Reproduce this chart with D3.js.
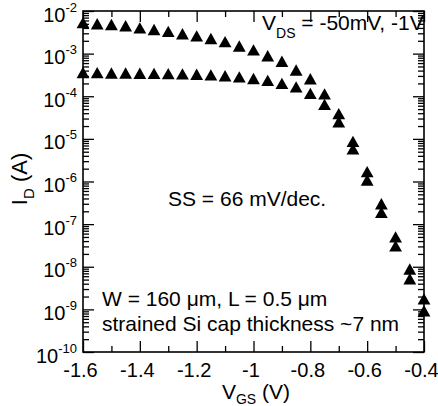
<!DOCTYPE html>
<html><head><meta charset="utf-8">
<script src="https://cdn.jsdelivr.net/npm/d3@7"></script>
<style>
body{margin:0;background:#fff}
svg text{font-family:"Liberation Sans",Arial,sans-serif;fill:#000}
</style>
</head><body>
<svg id="c" width="438" height="406"></svg>
<script>
// ---- data ----
const vgs = [-1.6,-1.55,-1.5,-1.45,-1.4,-1.35,-1.3,-1.25,-1.2,-1.15,-1.1,-1.05,-1.0,-0.95,-0.9,-0.85,-0.8,-0.75,-0.7,-0.65,-0.6,-0.55,-0.5,-0.45,-0.4];
const idVds1V = [5.3e-3,5.0e-3,4.8e-3,4.5e-3,4.0e-3,3.65e-3,3.3e-3,2.9e-3,2.6e-3,2.25e-3,1.9e-3,1.5e-3,1.22e-3,8.9e-4,6.6e-4,4.1e-4,2.55e-4,1.13e-4,3.9e-5,8.7e-6,1.7e-6,3.0e-7,5.0e-8,8.8e-9,1.75e-9];
const idVds50mV = [3.6e-4,3.56e-4,3.5e-4,3.5e-4,3.45e-4,3.42e-4,3.38e-4,3.33e-4,3.27e-4,3.15e-4,3.02e-4,2.83e-4,2.6e-4,2.35e-4,1.99e-4,1.65e-4,1.16e-4,6.4e-5,2.5e-5,5.8e-6,1.08e-6,1.88e-7,3.07e-8,5.2e-9,9.2e-10];
const xTickValues = [-1.6,-1.4,-1.2,-1.0,-0.8,-0.6,-0.4];
const xTickLabels = ["-1.6","-1.4","-1.2","-1","-0.8","-0.6","-0.4"];
const xMinorTicks = [-1.5,-1.3,-1.1,-0.9,-0.7,-0.5];
const yDecadeExponents = [-10,-9,-8,-7,-6,-5,-4,-3,-2];

// ---- layout ----
const svg = d3.select("#c");
const L = 83, R = 424, T = 11, B = 352;
const x = d3.scaleLinear().domain([-1.6,-0.4]).range([L,R]);
const y = d3.scaleLog().domain([1e-10,1e-2]).range([B,T]);

const allY = y.ticks();
const majorY = allY.filter(v => Math.abs(Math.log10(v) - Math.round(Math.log10(v))) < 1e-9);
const minorY = allY.filter(v => !majorY.includes(v));

function styleAxis(g){
  g.select(".domain").remove();
  g.selectAll("line").attr("stroke","#000").attr("stroke-width",1.3);
}
// bottom
svg.append("g").attr("transform",`translate(0,${B})`)
  .call(d3.axisBottom(x).tickValues(xTickValues).tickSizeInner(-11).tickSizeOuter(0).tickPadding(6)
    .tickFormat((d,i)=>xTickLabels[i]))
  .call(styleAxis)
  .call(g=>g.selectAll("text").attr("font-size",20).attr("dx",-3).attr("dy","0.95em"));
svg.append("g").attr("transform",`translate(0,${B})`)
  .call(d3.axisBottom(x).tickValues(xMinorTicks).tickSizeInner(-6).tickSizeOuter(0).tickFormat(""))
  .call(styleAxis);
// top
svg.append("g").attr("transform",`translate(0,${T})`)
  .call(d3.axisTop(x).tickValues(xTickValues).tickSizeInner(-11).tickSizeOuter(0).tickFormat(""))
  .call(styleAxis);
svg.append("g").attr("transform",`translate(0,${T})`)
  .call(d3.axisTop(x).tickValues(xMinorTicks).tickSizeInner(-6).tickSizeOuter(0).tickFormat(""))
  .call(styleAxis);
// left / right
[[d3.axisLeft,L],[d3.axisRight,R]].forEach(([ax,pos])=>{
  svg.append("g").attr("transform",`translate(${pos},0)`)
    .call(ax(y).tickValues(majorY).tickSizeInner(-11).tickSizeOuter(0).tickFormat(""))
    .call(styleAxis);
  svg.append("g").attr("transform",`translate(${pos},0)`)
    .call(ax(y).tickValues(minorY).tickSizeInner(-6).tickSizeOuter(0).tickFormat(""))
    .call(styleAxis);
});
// y labels
const yl = svg.append("g").selectAll("text").data(yDecadeExponents).join("text")
  .attr("x",77).attr("y",d=>y(Math.pow(10,d))+10.5)
  .attr("text-anchor","end").attr("font-size",20);
yl.append("tspan").text("10");
yl.append("tspan").attr("dy",-10).attr("font-size",13).text(d=>String(d));

// frame
svg.append("rect").attr("x",L).attr("y",T).attr("width",R-L).attr("height",B-T)
  .attr("fill","none").attr("stroke","#000").attr("stroke-width",1.6);

// markers
const tri = "M0,-5.8L6.4,5.6L-6.4,5.6Z";
[idVds50mV, idVds1V].forEach(series=>{
  svg.append("g").selectAll("path").data(series).join("path")
    .attr("d",tri)
    .attr("transform",(d,i)=>`translate(${x(vgs[i])},${y(d)})`)
    .attr("fill","#000");
});

// annotations
const vds = svg.append("text").attr("x",262).attr("y",30).attr("font-size",21);
vds.append("tspan").text("V");
vds.append("tspan").attr("dy",8).attr("font-size",14).text("DS");
vds.append("tspan").attr("dy",-8).text(" = -50mV, -1V");

svg.append("text").attr("x",168).attr("y",206).attr("font-size",21).text("SS = 66 mV/dec.");
svg.append("text").attr("x",102).attr("y",306).attr("font-size",21).text("W = 160 \u03bcm, L = 0.5 \u03bcm");
svg.append("text").attr("x",102).attr("y",331).attr("font-size",21).text("strained Si cap thickness ~7 nm");

// axis titles
const xt = svg.append("text").attr("x",256).attr("y",399).attr("text-anchor","middle").attr("font-size",21);
xt.append("tspan").text("V");
xt.append("tspan").attr("dy",5).attr("font-size",14).text("GS");
xt.append("tspan").attr("dy",-5).text(" (V)");

const ytl = svg.append("text").attr("transform","translate(27,179) rotate(-90)").attr("text-anchor","middle").attr("font-size",22);
ytl.append("tspan").text("I");
ytl.append("tspan").attr("dy",7).attr("font-size",15).text("D");
ytl.append("tspan").attr("dy",-7).text(" (A)");
</script>
</body></html>
